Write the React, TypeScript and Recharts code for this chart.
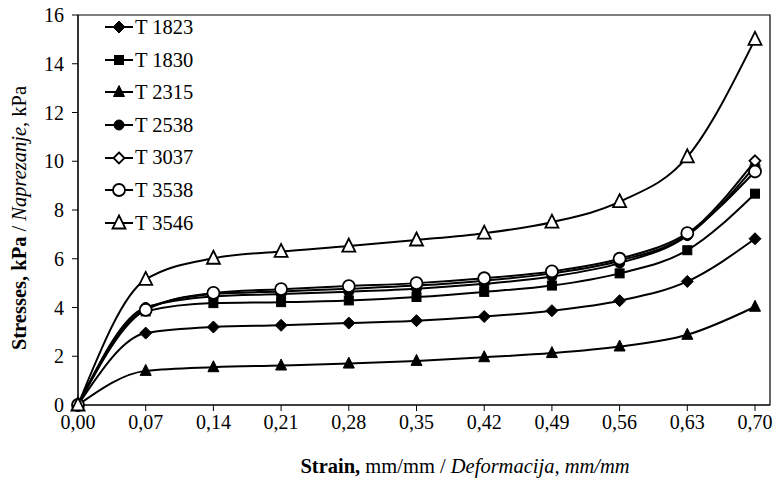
import React from 'react';
import { LineChart, Line, XAxis, YAxis, Legend, ReferenceArea } from 'recharts';

const strain = [0, 0.07, 0.14, 0.21, 0.28, 0.35, 0.42, 0.49, 0.56, 0.63, 0.7];

const t1823 = [0, 2.95, 3.2, 3.27, 3.36, 3.46, 3.63, 3.87, 4.28, 5.07, 6.82];
const t1830 = [0, 3.84, 4.18, 4.22, 4.29, 4.43, 4.64, 4.9, 5.4, 6.35, 8.67];
const t2315 = [0, 1.4, 1.55, 1.62, 1.7, 1.81, 1.96, 2.13, 2.4, 2.88, 4.03];
const t2538 = [0, 4.0, 4.45, 4.55, 4.65, 4.77, 4.97, 5.27, 5.82, 6.95, 9.8];
const t3037 = [0, 3.95, 4.55, 4.66, 4.77, 4.9, 5.1, 5.4, 5.92, 7.0, 10.02];
const t3538 = [0, 3.9, 4.6, 4.75, 4.88, 5.0, 5.2, 5.48, 6.0, 7.05, 9.58];
const t3546 = [0, 5.15, 6.02, 6.3, 6.52, 6.77, 7.05, 7.5, 8.34, 10.18, 15.0];

const yTicks = [0, 2, 4, 6, 8, 10, 12, 14, 16];
const xMax = 0.7155;

type Shape = 'diamond' | 'square' | 'triangle' | 'circle';

const series: { key: string; name: string; values: number[]; shape: Shape; filled: boolean }[] = [
  { key: 't1823', name: 'T 1823', values: t1823, shape: 'diamond', filled: true },
  { key: 't1830', name: 'T 1830', values: t1830, shape: 'square', filled: true },
  { key: 't2315', name: 'T 2315', values: t2315, shape: 'triangle', filled: true },
  { key: 't2538', name: 'T 2538', values: t2538, shape: 'circle', filled: true },
  { key: 't3037', name: 'T 3037', values: t3037, shape: 'diamond', filled: false },
  { key: 't3538', name: 'T 3538', values: t3538, shape: 'circle', filled: false },
  { key: 't3546', name: 'T 3546', values: t3546, shape: 'triangle', filled: false },
];

const data = strain.map((s, i) => {
  const row: Record<string, number> = { strain: s };
  series.forEach((sr) => { row[sr.key] = sr.values[i]; });
  return row;
});

const FONT = '"Liberation Serif", "Times New Roman", serif';

function Marker({ cx, cy, shape, filled }: { cx: number; cy: number; shape: Shape; filled: boolean }) {
  const fill = filled ? '#000' : '#fff';
  const sw = filled ? 1 : 1.8;
  if (shape === 'diamond') {
    const r = filled ? 6 : 5.5;
    return <polygon points={`${cx},${cy - r} ${cx + r},${cy} ${cx},${cy + r} ${cx - r},${cy}`} fill={fill} stroke="#000" strokeWidth={sw} />;
  }
  if (shape === 'square') {
    return <rect x={cx - 4.5} y={cy - 4.5} width={9} height={9} fill={fill} stroke="#000" strokeWidth={sw} />;
  }
  if (shape === 'triangle') {
    const w = filled ? 5.5 : 6.5;
    const h = filled ? 5.5 : 6.5;
    return <polygon points={`${cx},${cy - h - 1} ${cx + w},${cy + h - 1} ${cx - w},${cy + h - 1}`} fill={fill} stroke="#000" strokeWidth={sw} strokeLinejoin="miter" />;
  }
  return <circle cx={cx} cy={cy} r={filled ? 5 : 6} fill={fill} stroke="#000" strokeWidth={sw} />;
}

const dotFor = (shape: Shape, filled: boolean) => (p: any) => (
  <Marker key={`${p.dataKey}-${p.index}`} cx={p.cx} cy={p.cy} shape={shape} filled={filled} />
);

const fmt = (v: number) => v.toFixed(2).replace('.', ',');

const LegendBox = () => (
  <div style={{ fontFamily: FONT, fontSize: 20.5, color: '#000', lineHeight: 1 }}>
    {series.map((s) => (
      <div key={s.key} style={{ display: 'flex', alignItems: 'center', height: 32.6 }}>
        <svg width={30} height={20} style={{ display: 'block' }}>
          <line x1={1} y1={10} x2={29} y2={10} stroke="#000" strokeWidth={2} />
          <Marker cx={15} cy={10} shape={s.shape} filled={s.filled} />
        </svg>
        <span style={{ marginLeft: 1, whiteSpace: 'nowrap' }}>{s.name}</span>
      </div>
    ))}
  </div>
);

const YTitle = (props: any) => {
  const vb = props.viewBox || { x: 0, y: 15, width: 78, height: 390 };
  const cx = 19;
  const cy = vb.y + vb.height / 2 + 8;
  return (
    <text x={cx} y={cy} transform={`rotate(-90, ${cx}, ${cy})`} textAnchor="middle" dominantBaseline="central" fontFamily={FONT} fontSize={20.5} fill="#000">
      <tspan fontWeight="bold">Stresses, kPa</tspan>
      <tspan>{'  / '}</tspan>
      <tspan fontStyle="italic">Naprezanje,</tspan>
      <tspan> kPa</tspan>
    </text>
  );
};

const XTitle = (props: any) => {
  const vb = props.viewBox || { x: 78, y: 405, width: 692, height: 76 };
  const cx = vb.x + vb.width / 2 + 41;
  return (
    <text x={cx} y={473} textAnchor="middle" fontFamily={FONT} fontSize={20.5} fill="#000">
      <tspan fontWeight="bold">Strain,</tspan>
      <tspan>{' mm/mm / '}</tspan>
      <tspan fontStyle="italic">Deformacija, mm/mm</tspan>
    </text>
  );
};

export default function App() {
  return (
    <div style={{ position: 'absolute', left: 0, top: 0, background: '#fff' }}>
      <LineChart width={774} height={481} data={data} margin={{ top: 15, right: 4, left: 0, bottom: 0 }}>
        <ReferenceArea x1={0} x2={xMax} y1={0} y2={16} fill="none" stroke="#000" strokeWidth={1.2} ifOverflow="visible" />
        <XAxis
          dataKey="strain"
          type="number"
          domain={[0, xMax]}
          ticks={strain}
          tickFormatter={fmt}
          height={76}
          stroke="#000"
          tickSize={6}
          tickMargin={4}
          tick={{ fontFamily: FONT, fontSize: 20, fill: '#000' }}
          label={<XTitle />}
        />
        <YAxis
          type="number"
          domain={[0, 16]}
          ticks={yTicks}
          width={78}
          stroke="#000"
          tickSize={6}
          tickMargin={8}
          tick={{ fontFamily: FONT, fontSize: 20, fill: '#000' }}
          label={<YTitle />}
        />
        <Legend
          layout="vertical"
          verticalAlign="middle"
          align="center"
          wrapperStyle={{ position: 'absolute', left: 104, top: 11, width: 140 }}
          content={<LegendBox />}
        />
        {series.map((s) => (
          <Line
            key={s.key}
            type="monotone"
            dataKey={s.key}
            name={s.name}
            stroke="#000"
            strokeWidth={2}
            dot={dotFor(s.shape, s.filled)}
            activeDot={false}
            isAnimationActive={false}
          />
        ))}
      </LineChart>
    </div>
  );
}
